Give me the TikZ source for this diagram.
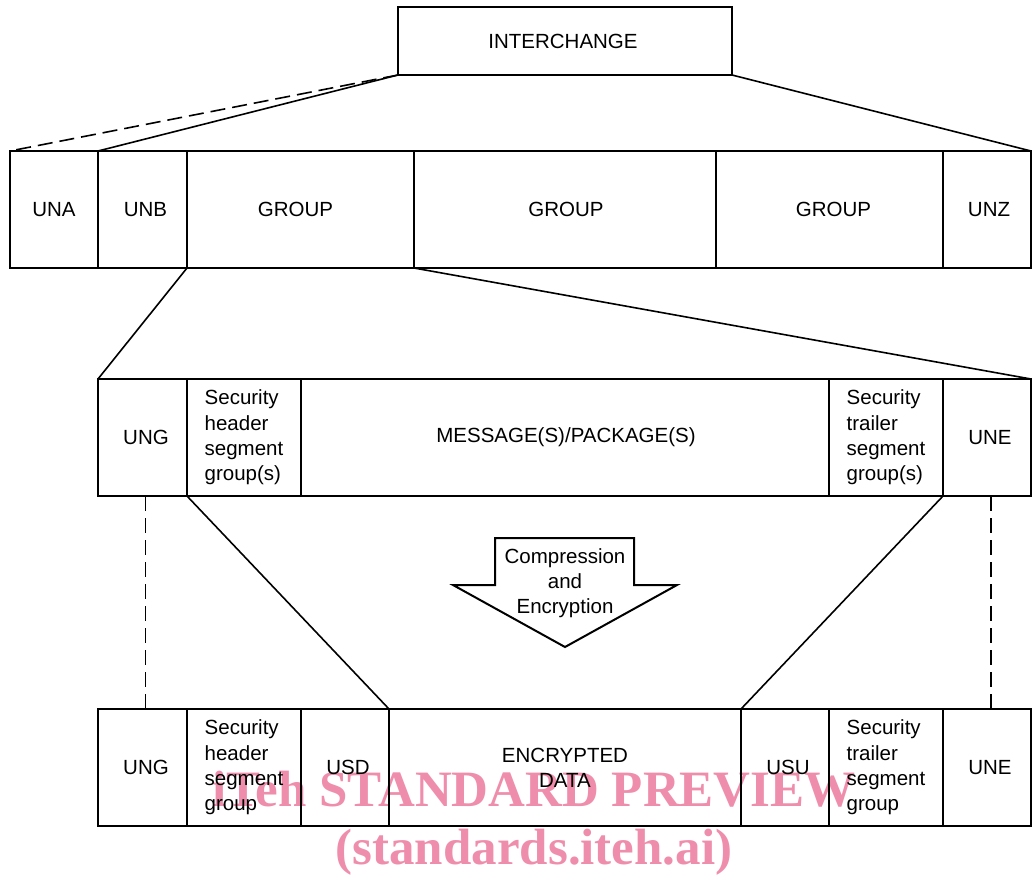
\documentclass[tikz,border=0pt]{standalone}
\usepackage{fontspec}
\setmainfont{Liberation Sans}
\newfontfamily\wmfont{Liberation Serif}
\definecolor{wmpink}{RGB}{239,142,172}
\begin{document}
\begin{tikzpicture}[x=1pt,y=-1pt,
  cell/.style={draw, line width=2pt, inner sep=0pt, outer sep=0pt, anchor=north west,
    align=left, font=\fontsize{20.5}{25.3}\selectfont},
  conn/.style={line width=1.6pt},
  dconn/.style={line width=1.6pt, dash pattern=on 15pt off 7pt},
  wm/.style={text=wmpink, font=\wmfont\bfseries\fontsize{51}{51}\selectfont, anchor=base, inner sep=0pt}]
\useasboundingbox (0,0) rectangle (1035,876);
% watermark (behind)
\node[wm] (wm1) at (534,806) {iTeh STANDARD PREVIEW};
\node[wm] (wm2) at (534,864) {(standards.iteh.ai)};
% top
\node[cell, minimum width=334pt, minimum height=68pt] (ich) at (398,7) {INTERCHANGE\hspace*{4pt}};
% row 1
\node[cell, minimum width=88pt, minimum height=117pt] (una) at (10,151) {UNA};
\node[cell, minimum width=89pt, minimum height=117pt] (unb) at (98,151) {\hspace*{6pt}UNB};
\node[cell, minimum width=227pt, minimum height=117pt] (g1) at (187,151) {GROUP\hspace*{10pt}};
\node[cell, minimum width=302pt, minimum height=117pt] (g2) at (414,151) {\hspace*{2pt}GROUP};
\node[cell, minimum width=227pt, minimum height=117pt] (g3) at (716,151) {\hspace*{8pt}GROUP};
\node[cell, minimum width=88pt, minimum height=117pt] (unz) at (943,151) {\hspace*{4pt}UNZ};
% row 2
\node[cell, minimum width=89pt, minimum height=117pt] (ung) at (98,379) {\hspace*{7pt}UNG};
\node[cell, minimum width=114pt, minimum height=117pt] (shg) at (187,379) {Security\\header\\segment\\group(s)};
\node[cell, minimum width=528pt, minimum height=117pt] (msg) at (301,379) {\hspace*{2pt}MESSAGE(S)/PACKAGE(S)};
\node[cell, minimum width=114pt, minimum height=117pt] (stg) at (829,379) {Security\\trailer\\segment\\group(s)};
\node[cell, minimum width=88pt, minimum height=117pt] (une) at (943,379) {\hspace*{6pt}UNE};
% row 3
\node[cell, minimum width=89pt, minimum height=117pt] (ungb) at (98,709) {\hspace*{7pt}UNG};
\node[cell, minimum width=114pt, minimum height=117pt] (shgb) at (187,709) {Security\\header\\segment\\group};
\node[cell, minimum width=88pt, minimum height=117pt] (usd) at (301,709) {\hspace*{6pt}USD};
\node[cell, minimum width=352pt, minimum height=117pt, align=center] (enc) at (389,709) {ENCRYPTED\\DATA};
\node[cell, minimum width=88pt, minimum height=117pt] (usu) at (741,709) {\hspace*{6pt}USU};
\node[cell, minimum width=114pt, minimum height=117pt] (stgb) at (829,709) {Security\\trailer\\segment\\group};
\node[cell, minimum width=88pt, minimum height=117pt] (uneb) at (943,709) {\hspace*{6pt}UNE};
% connectors
\draw[dconn] (ich.south west) -- (una.north west);
\draw[conn] (ich.south west) -- (unb.north west);
\draw[conn] (ich.south east) -- (unz.north east);
\draw[conn] (g1.south west) -- (ung.north west);
\draw[conn] (g1.south east) -- (une.north east);
\draw[dconn] ([xshift=3pt]ung.south) -- ([xshift=3pt]ungb.north);
\draw[dconn] ([xshift=4pt]une.south) -- ([xshift=4pt]uneb.north);
\draw[conn] (shg.south west) -- (enc.north west);
\draw[conn] (stg.south east) -- (enc.north east);
% arrow
\draw[line width=2pt, line join=miter] (495,538) -- (634,538) -- (634,585) -- (677,585) -- (565,647) -- (453,585) -- (495,585) -- cycle;
\node[align=center, font=\fontsize{20.5}{25.3}\selectfont, inner sep=0pt] (ce) at (565,583) {Compression\\and\\Encryption};
\end{tikzpicture}
\end{document}
